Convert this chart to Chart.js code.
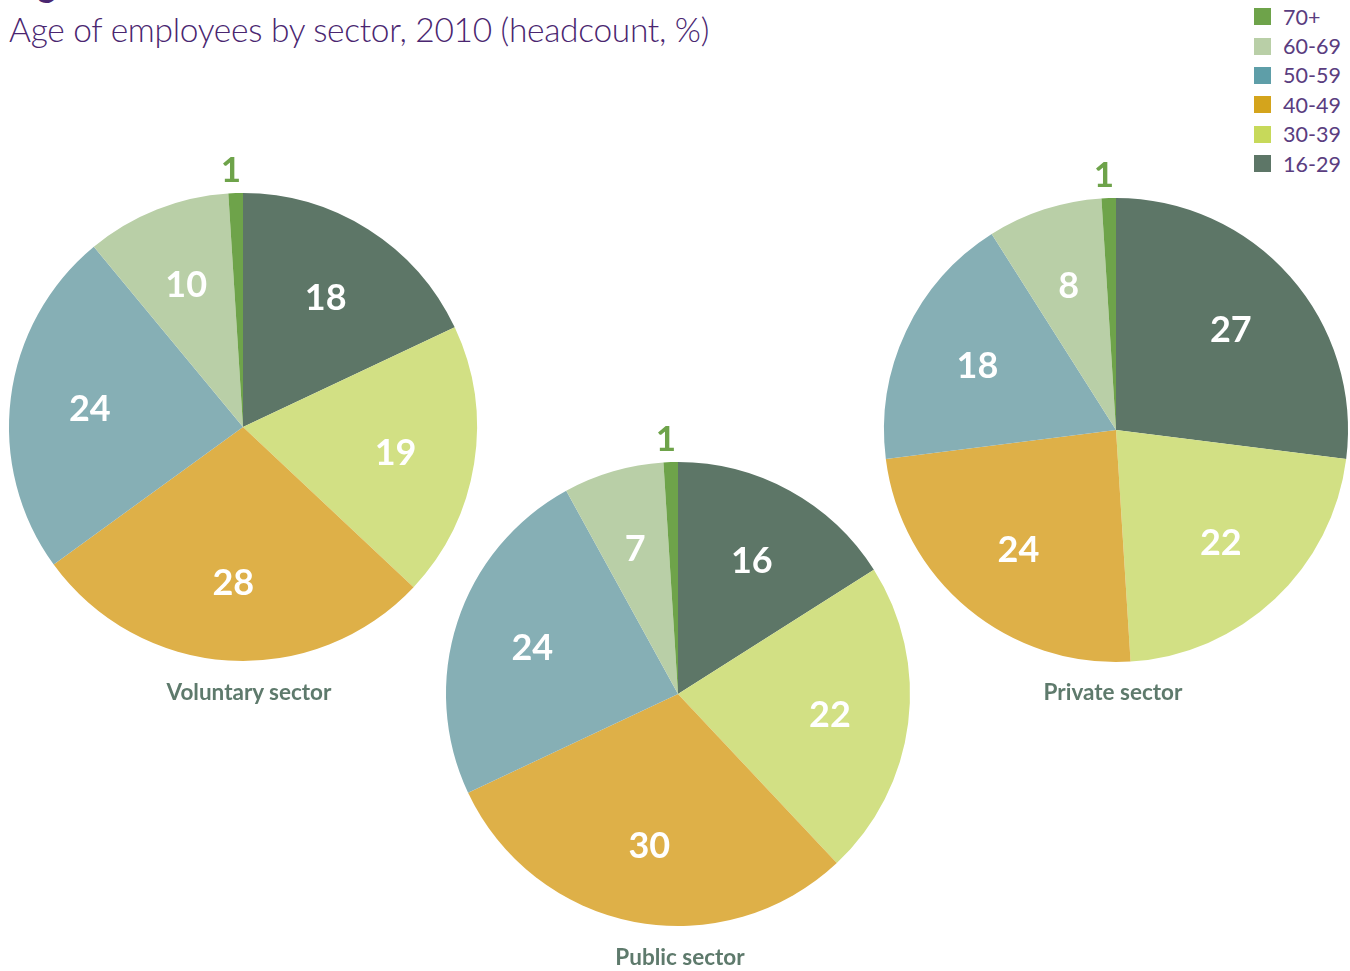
<!DOCTYPE html>
<html>
<head>
<meta charset="utf-8">
<script src="https://cdn.jsdelivr.net/npm/chart.js@4.4.1/dist/chart.umd.min.js"></script>
<style>
  html, body { margin: 0; padding: 0; background: #fff; }
  body { width: 1350px; height: 971px; position: relative; overflow: hidden; font-family: 'Lato', 'Open Sans', sans-serif; }
  .fig { position: absolute; left: 10px; top: -37px; font-size: 34px; font-weight: 700; color: #4a2670; }
  .title { position: absolute; left: 9px; top: 9px; font-size: 33.5px; font-weight: 300; color: #4a2670; white-space: nowrap; letter-spacing: -0.3px; }
  .pie { position: absolute; }
  .sector { position: absolute; font-size: 22.5px; font-weight: 700; color: #5e7a6c; transform: translateX(-50%); white-space: nowrap; }
  #legend { position: absolute; left: 1254px; top: 2px; }
  .lg { display: flex; align-items: center; height: 29.4px; font-size: 21.5px; color: #5a3d80; }
  .lg span.sw { width: 17px; height: 17px; margin-right: 12px; }
</style>
</head>
<body>
<div class="fig">Figure 6</div>
<div class="title">Age of employees by sector, 2010 (headcount, %)</div>
<div id="legend"></div>

<script>
const ageGroups = ['16-29', '30-39', '40-49', '50-59', '60-69', '70+'];
const sectors = ['Voluntary sector', 'Public sector', 'Private sector'];
const voluntary = [18, 19, 28, 24, 10, 1];
const publicSector = [16, 22, 30, 24, 7, 1];
const privateSector = [27, 22, 24, 18, 8, 1];

const sliceColors = ['#5d7667', '#d2e084', '#deb048', '#86afb5', '#b9cfa7', '#6ea34a'];
const legendColors = ['#5d7667', '#c7d95a', '#d4a41c', '#5e9ea8', '#b9cfa7', '#6ea34a'];

// where each pie sits on the page
const layout = [
  { cx: 243, cy: 427, r: 234, lx: 249, ly: 678 },
  { cx: 678, cy: 694, r: 232, lx: 680, ly: 943 },
  { cx: 1116, cy: 430, r: 232, lx: 1113, ly: 678 }
];
const margin = 50;

// legend, top to bottom is reversed order
const legend = document.getElementById('legend');
for (let i = ageGroups.length - 1; i >= 0; i--) {
  const row = document.createElement('div');
  row.className = 'lg';
  row.innerHTML = `<span class="sw" style="background:${legendColors[i]}"></span>${ageGroups[i]}`;
  legend.appendChild(row);
}

const sliceLabels = {
  id: 'sliceLabels',
  afterDatasetsDraw(chart) {
    const ctx = chart.ctx;
    const meta = chart.getDatasetMeta(0);
    const values = chart.data.datasets[0].data;
    ctx.save();
    ctx.textAlign = 'center';
    ctx.textBaseline = 'middle';
    meta.data.forEach((arc, i) => {
      const { x, y, startAngle, endAngle, outerRadius } = arc.getProps(['x', 'y', 'startAngle', 'endAngle', 'outerRadius'], true);
      const mid = (startAngle + endAngle) / 2;
      const v = values[i];
      if (v < 3) {
        const d = outerRadius + 22;
        ctx.fillStyle = '#6ea34a';
        ctx.font = 'bold 35px Lato, sans-serif';
        ctx.fillText(v, x + Math.cos(mid) * d - 4, y + Math.sin(mid) * d);
      } else {
        const d = outerRadius * 0.66;
        ctx.fillStyle = '#ffffff';
        ctx.font = 'bold 36px Lato, sans-serif';
        ctx.fillText(v, x + Math.cos(mid) * d, y + Math.sin(mid) * d + 2);
      }
    });
    ctx.restore();
  }
};

[voluntary, publicSector, privateSector].forEach((values, k) => {
  const p = layout[k];
  const size = 2 * (p.r + margin);
  const wrap = document.createElement('div');
  wrap.className = 'pie';
  wrap.style.left = (p.cx - p.r - margin) + 'px';
  wrap.style.top = (p.cy - p.r - margin) + 'px';
  wrap.style.width = size + 'px';
  wrap.style.height = size + 'px';
  const canvas = document.createElement('canvas');
  wrap.appendChild(canvas);
  document.body.appendChild(wrap);

  new Chart(canvas, {
    type: 'pie',
    data: {
      labels: ageGroups,
      datasets: [{ data: values, backgroundColor: sliceColors, borderWidth: 0 }]
    },
    options: {
      responsive: true,
      maintainAspectRatio: false,
      animation: false,
      layout: { padding: margin },
      plugins: { legend: { display: false }, tooltip: { enabled: false } }
    },
    plugins: [sliceLabels]
  });

  const lab = document.createElement('div');
  lab.className = 'sector';
  lab.textContent = sectors[k];
  lab.style.left = p.lx + 'px';
  lab.style.top = p.ly + 'px';
  document.body.appendChild(lab);
});
</script>
</body>
</html>
